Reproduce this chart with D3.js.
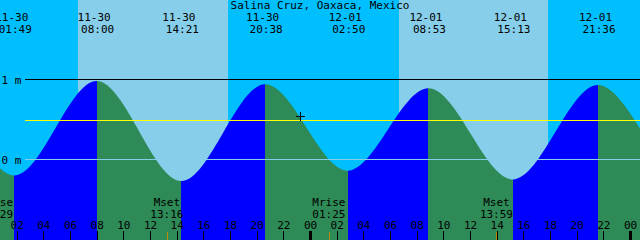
<!DOCTYPE html>
<html>
<head>
<meta charset="utf-8">
<script src="https://cdn.jsdelivr.net/npm/d3@7"></script>
<style>
  body { margin: 0; background: #fff; }
  svg { display: block; }
  text { font-family: "DejaVu Sans Mono", monospace; font-size: 11px; fill: #000; }
</style>
</head>
<body>
<svg id="chart" width="640" height="240"></svg>
<script>
const title = "Salina Cruz, Oaxaca, Mexico";

// high / low tides (first and last two are off-screen, only shape the curve)
const tideTimes = [
  "2024-11-29 13:20", "2024-11-29 19:35",
  "2024-11-30 01:49", "2024-11-30 08:00", "2024-11-30 14:21", "2024-11-30 20:38",
  "2024-12-01 02:50", "2024-12-01 08:53", "2024-12-01 15:13", "2024-12-01 21:36",
  "2024-12-02 04:00", "2024-12-02 10:10"
];
const tideHeights = [-0.25, 0.95, -0.20, 0.98, -0.27, 0.94, -0.14, 0.89, -0.25, 0.93, -0.18, 0.90];

const sunrises = ["2024-11-30 06:34", "2024-12-01 06:40"];
const sunsets = ["2024-11-30 17:51", "2024-12-01 17:51"];

const moonLabels = ["Mrise", "Mset", "Mrise", "Mset"];
const moonTimes = ["2024-11-30 00:29", "2024-11-30 13:16", "2024-12-01 01:25", "2024-12-01 13:59"];

const levelValues = [1, 0];
const levelLabels = ["1 m", "0 m"];
const meanLevel = 0.49;

const nowTime = "2024-11-30 23:15";
const nowHeight = 0.535;

const viewRange = ["2024-11-30 00:45", "2024-12-02 00:45"];

const W = 640, H = 240;
const parse = d3.utcParse("%Y-%m-%d %H:%M");
const fmtDate = d3.utcFormat("%m-%d");
const fmtTime = d3.utcFormat("%H:%M");

const tides = tideTimes.map((t, i) => ({ t: parse(t), h: tideHeights[i] }));

const x = d3.scaleUtc().domain(viewRange.map(parse)).range([0, W]);
const y = d3.scaleLinear().domain([0, 1]).range([159.5, 79.5]);

const svg = d3.select("#chart");

// night background, day bands
svg.append("rect").attr("width", W).attr("height", H).attr("fill", "#00bfff");
svg.selectAll("rect.day")
  .data(sunrises.map((s, i) => [parse(s), parse(sunsets[i])]))
  .enter()
  .append("rect")
  .attr("class", "day")
  .attr("x", d => x(d[0]))
  .attr("width", d => x(d[1]) - x(d[0]))
  .attr("y", 0)
  .attr("height", H)
  .attr("fill", "#87ceeb")
  .attr("shape-rendering", "crispEdges");

// water below the curve
const area = d3.area()
  .x(d => x(d.t))
  .y0(H)
  .y1(d => y(d.h))
  .curve(d3.curveMonotoneX);

svg.append("clipPath")
  .attr("id", "water")
  .append("path")
  .attr("d", area(tides));

const segs = d3.pairs(tides);
svg.append("g")
  .attr("clip-path", "url(#water)")
  .selectAll("rect")
  .data(segs)
  .enter()
  .append("rect")
  .attr("x", d => x(d[0].t))
  .attr("width", d => x(d[1].t) - x(d[0].t))
  .attr("y", 0)
  .attr("height", H)
  .attr("fill", d => d[1].h > d[0].h ? "#0000ff" : "#2e8b57")
  .attr("shape-rendering", "crispEdges");

// level lines
const lines = svg.append("g").attr("shape-rendering", "crispEdges");
lines.append("line")
  .attr("x1", 25).attr("x2", W)
  .attr("y1", y(1)).attr("y2", y(1))
  .attr("stroke", "#000");
lines.append("line")
  .attr("x1", 25).attr("x2", W)
  .attr("y1", y(meanLevel)).attr("y2", y(meanLevel))
  .attr("stroke", "#ffff00");
lines.append("line")
  .attr("x1", 25).attr("x2", W)
  .attr("y1", y(0)).attr("y2", y(0))
  .attr("stroke", "#87ceeb");

svg.selectAll("text.level")
  .data(levelValues)
  .enter()
  .append("text")
  .attr("class", "level")
  .attr("x", 1.5)
  .attr("y", d => y(d) + 4)
  .text((d, i) => levelLabels[i]);

// title
svg.append("text")
  .attr("x", W / 2)
  .attr("y", 8.5)
  .attr("text-anchor", "middle")
  .text(title);

// high / low labels
const shown = tides.filter(d => d.t >= x.domain()[0] && d.t <= x.domain()[1]);
const hl = svg.append("g");
hl.selectAll("text.date")
  .data(shown)
  .enter()
  .append("text")
  .attr("class", "date")
  .attr("x", d => x(d.t) - 2.5)
  .attr("y", 21)
  .attr("text-anchor", "middle")
  .text(d => fmtDate(d.t));
hl.selectAll("text.time")
  .data(shown)
  .enter()
  .append("text")
  .attr("class", "time")
  .attr("x", d => x(d.t) + 1)
  .attr("y", 33.3)
  .attr("text-anchor", "middle")
  .text(d => fmtTime(d.t));

// moon rise / set
const moon = moonTimes.map((t, i) => ({ t: parse(t), label: moonLabels[i] }));
const mg = svg.append("g");
mg.selectAll("line")
  .data(moon)
  .enter()
  .append("line")
  .attr("x1", d => Math.round(x(d.t)) + 0.5)
  .attr("x2", d => Math.round(x(d.t)) + 0.5)
  .attr("y1", 232)
  .attr("y2", H)
  .attr("stroke", "#b8860b");
mg.selectAll("text.mname")
  .data(moon)
  .enter()
  .append("text")
  .attr("class", "mname")
  .attr("x", d => x(d.t))
  .attr("y", 206)
  .attr("text-anchor", "middle")
  .text(d => d.label);
mg.selectAll("text.mtime")
  .data(moon)
  .enter()
  .append("text")
  .attr("class", "mtime")
  .attr("x", d => x(d.t))
  .attr("y", 218.3)
  .attr("text-anchor", "middle")
  .text(d => fmtTime(d.t));

// hour axis along the bottom
const axis = d3.axisTop(x)
  .ticks(d3.utcHour.every(2))
  .tickFormat(d3.utcFormat("%H"))
  .tickSize(9)
  .tickPadding(1.7);

const ag = svg.append("g")
  .attr("transform", `translate(0,${H})`)
  .call(axis);
ag.select(".domain").remove();
ag.selectAll("text")
  .attr("font-family", null)
  .attr("font-size", null)
  .style("font-family", "'DejaVu Sans Mono', monospace")
  .style("font-size", "11px")
  .attr("fill", "#000");
ag.selectAll("line")
  .attr("stroke", "#000")
  .attr("shape-rendering", "crispEdges")
  .attr("stroke-width", d => d.getUTCHours() === 0 ? 3 : 1);

// current time mark
const cx = x(parse(nowTime)), cy = y(nowHeight);
svg.append("path")
  .attr("d", `M${cx - 4.5},${cy}H${cx + 4.5}M${cx},${cy - 4.5}V${cy + 4.5}`)
  .attr("stroke", "#000")
  .attr("stroke-width", 1)
  .attr("shape-rendering", "crispEdges");
</script>
</body>
</html>
